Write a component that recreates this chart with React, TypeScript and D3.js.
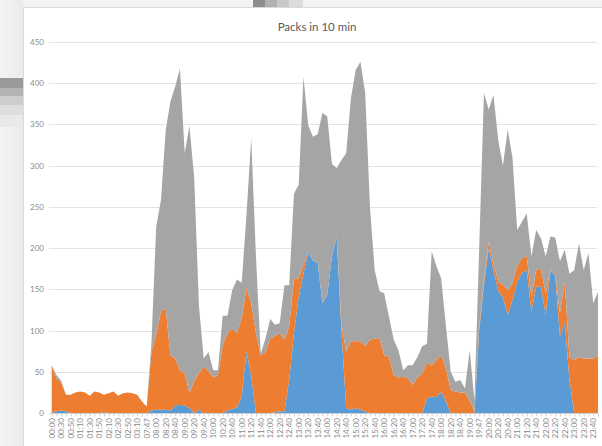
import React from 'react'
import * as d3 from 'd3'

// time slots (10 min buckets, some gaps in the log)
const categories = [
  '00:00', '00:20', '00:30', '00:40', '00:50', '01:00', '01:10', '01:20', '01:30', '01:40',
  '01:50', '02:00', '02:10', '02:20', '02:30', '02:40', '02:50', '03:00', '03:10', '03:20',
  '07:47', '07:50', '08:00', '08:10', '08:20', '08:30', '08:40', '08:50', '09:00', '09:10',
  '09:20', '09:30', '09:40', '09:50', '10:00', '10:10', '10:20', '10:30', '10:40', '10:50',
  '11:00', '11:10', '11:20', '11:30', '11:40', '11:50', '12:00', '12:10', '12:20', '12:30',
  '12:40', '12:50', '13:00', '13:10', '13:20', '13:30', '13:40', '13:50', '14:00', '14:10',
  '14:20', '14:30', '14:40', '14:50', '15:00', '15:10', '15:20', '15:30', '15:40', '15:50',
  '16:00', '16:10', '16:20', '16:30', '16:40', '16:50', '17:00', '17:10', '17:20', '17:30',
  '17:40', '17:50', '18:00', '18:10', '18:20', '18:30', '18:40', '18:50', '19:00', '19:10',
  '19:47', '19:50', '20:00', '20:10', '20:20', '20:30', '20:40', '20:50', '21:00', '21:10',
  '21:20', '21:30', '21:40', '21:50', '22:00', '22:10', '22:20', '22:30', '22:40', '22:50',
  '23:00', '23:10', '23:20', '23:30', '23:40', '23:50'
]

// cumulative tops (blue, blue+orange, total)
const blueTop = [
  0, 2, 3, 2, 0, 0, 0, 0, 0, 0,
  0, 1, 0, 0, 0, 0, 0, 0, 0, 0,
  0, 3, 4, 4, 4, 3, 9, 10, 9, 6,
  0, 4, 0, 0, 0, 0, 0, 3, 5, 7,
  20, 75, 45, 0, 0, 0, 0, 1, 2, 2,
  40, 97, 141, 169, 195, 185, 182, 133, 143, 190,
  214, 100, 6, 4, 6, 4, 2, 0, 0, 0,
  0, 0, 0, 0, 0, 0, 0, 0, 0, 18,
  20, 19, 26, 14, 0, 0, 0, 0, 0, 0,
  100, 155, 200, 173, 148, 140, 119, 137, 159, 170,
  173, 123, 153, 153, 119, 173, 167, 93, 111, 40,
  0, 0, 0, 0, 0, 0
]
const orangeTop = [
  58, 42, 37, 22, 22, 25, 26, 25, 21, 26,
  25, 22, 24, 26, 21, 24, 25, 24, 22, 14,
  8, 74, 95, 123, 127, 70, 66, 52, 48, 24,
  39, 48, 56, 51, 43, 46, 82, 97, 102, 97,
  115, 151, 133, 97, 70, 74, 90, 93, 97, 89,
  105, 163, 163, 180, 195, 185, 182, 133, 143, 190,
  214, 109, 74, 87, 87, 87, 81, 89, 90, 91,
  70, 68, 46, 43, 44, 42, 34, 43, 48, 61,
  58, 64, 70, 54, 28, 26, 25, 25, 15, 2,
  105, 160, 208, 182, 159, 156, 149, 157, 178, 188,
  190, 141, 173, 175, 145, 174, 169, 121, 159, 68,
  64, 68, 66, 66, 66, 70
]
const totalTop = [
  58, 46, 39, 22, 22, 25, 26, 25, 21, 26,
  25, 22, 24, 26, 21, 24, 25, 24, 22, 14,
  8, 85, 226, 258, 343, 378, 396, 418, 315, 348,
  285, 130, 66, 74, 52, 52, 118, 118, 149, 162,
  158, 240, 333, 190, 72, 90, 114, 107, 109, 155,
  155, 266, 277, 408, 349, 335, 338, 364, 360, 302,
  297, 307, 315, 382, 416, 426, 388, 250, 173, 148,
  145, 117, 89, 76, 52, 58, 58, 68, 81, 84,
  196, 178, 163, 105, 50, 38, 40, 30, 76, 15,
  200, 388, 368, 386, 331, 300, 344, 310, 222, 232,
  242, 190, 222, 212, 190, 214, 213, 184, 198, 169,
  173, 206, 173, 194, 133, 147
]

const yTicks = [0, 50, 100, 150, 200, 250, 300, 350, 400, 450]
const seriesKeys = ['blue', 'orange', 'gray']
const colors = ['#5b9bd5', '#ed7d31', '#a5a5a5']

const W = 602, H = 446
const font = 'Lato, "Open Sans", sans-serif'

export default function App() {
  const rows = categories.map((c, i) => ({
    cat: c,
    blue: blueTop[i],
    orange: Math.max(0, orangeTop[i] - blueTop[i]),
    gray: Math.max(0, totalTop[i] - Math.max(orangeTop[i], blueTop[i]))
  }))
  const stacked = d3.stack().keys(seriesKeys)(rows as any)

  const x = d3.scalePoint().domain(categories).range([51.7, 51.7 + 4.75 * (categories.length - 1)])
  const y = d3.scaleLinear().domain([0, 450]).range([413, 42])

  const area = d3.area<any>()
    .x((d: any) => x(d.data.cat) as number)
    .y0((d: any) => y(d[0]))
    .y1((d: any) => y(d[1]))

  return (
    <svg width={W} height={H} style={{ position: 'absolute', left: 0, top: 0, display: 'block' }}>
      <defs>
        <linearGradient id="side" x1="0" y1="0" x2="1" y2="0">
          <stop offset="0" stopColor="#f4f4f4" />
          <stop offset="1" stopColor="#ebebeb" />
        </linearGradient>
        <clipPath id="plot">
          <rect x={0} y={0} width={598} height={H} />
        </clipPath>
      </defs>
      {/* window background around the chart */}
      <rect x={0} y={0} width={W} height={H} fill="#f3f3f3" />
      <rect x={0} y={0} width={23} height={H} fill="url(#side)" />
      <rect x={0} y={78} width={23} height={10} fill="#9a9a9a" />
      <rect x={0} y={88} width={23} height={8} fill="#b4b4b4" />
      <rect x={0} y={96} width={23} height={9} fill="#cdcdcd" />
      <rect x={0} y={105} width={23} height={10} fill="#dedede" />
      <rect x={0} y={115} width={23} height={12} fill="#e9e9e9" />
      <rect x={253} y={0} width={12} height={7} fill="#8c8c8c" />
      <rect x={265} y={0} width={12} height={7} fill="#b0b0b0" />
      <rect x={277} y={0} width={12} height={7} fill="#c8c8c8" />
      <rect x={289} y={0} width={14} height={7} fill="#dcdcdc" />

      {/* chart area */}
      <rect x={23.5} y={7.5} width={W} height={H} fill="#ffffff" stroke="#d9d9d9" />

      <text x={317} y={31} textAnchor="middle" fontFamily={font} fontSize={11.5} fill="#595959">
        Packs in 10 min
      </text>

      {yTicks.map(t => (
        <g key={t}>
          {t > 0 && <line x1={49} x2={597} y1={Math.round(y(t)) + 0.5} y2={Math.round(y(t)) + 0.5} stroke="#e3e3e3" strokeWidth={1} />}
          <text x={44} y={y(t) + 3} textAnchor="end" fontFamily={font} fontSize={8} fill="#8a8a8a">{t}</text>
        </g>
      ))}

      <g clipPath="url(#plot)">
        {stacked.map((s, i) => (
          <path key={s.key} d={area(s as any) || ''} fill={colors[i]} />
        ))}
      </g>

      {/* category axis */}
      <line x1={49} x2={598} y1={413.5} y2={413.5} stroke="#d0d0d0" />
      {categories.map(c => (
        <line key={c} x1={(x(c) as number) + 0.5} x2={(x(c) as number) + 0.5} y1={413.5} y2={416.5} stroke="#d0d0d0" />
      ))}
      {categories.map((c, i) => i % 2 === 0 ? (
        <text key={'l' + c} transform={`translate(${(x(c) as number) + 3},418) rotate(-90)`}
          textAnchor="end" fontFamily={font} fontSize={8} fill="#8a8a8a">{c}</text>
      ) : null)}
    </svg>
  )
}
